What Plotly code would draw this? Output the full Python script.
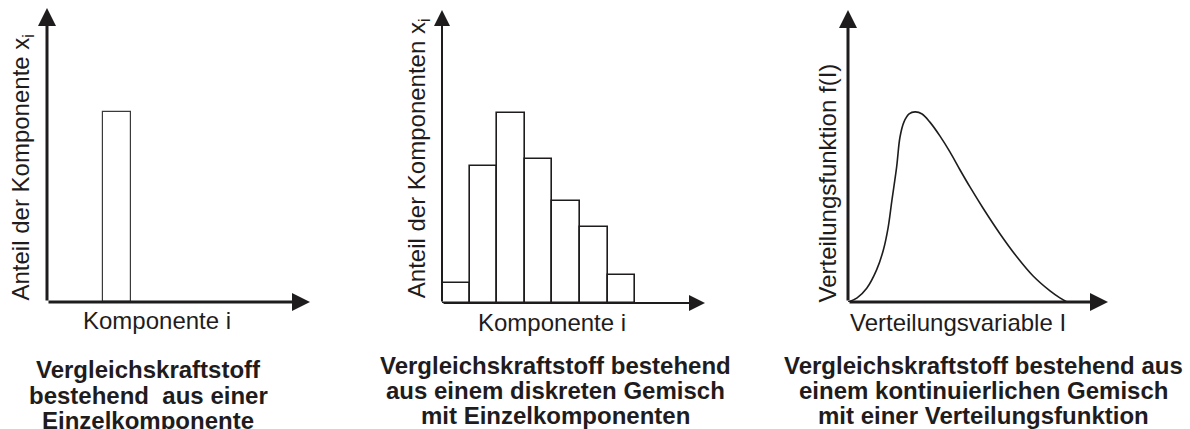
import plotly.graph_objects as go

W, H = 1190, 429

# ---- data ----
single_component_x = [2.5]
single_component_share = [64.5]

mix_components = [0.5, 1.5, 2.5, 3.5, 4.5, 5.5, 6.5]
mix_shares = [6.8, 46.8, 64.8, 49.1, 34.8, 25.9, 9.6]

dist_variable = [0, 0.35, 0.72, 1.10, 1.36, 1.54, 1.69, 1.87, 2.0, 2.15, 2.35, 2.58,
                 2.85, 3.15, 3.54, 3.92, 4.31, 4.69, 5.19, 5.85, 6.50, 7.12, 7.77, 8.15, 8.42]
dist_function = [0, 1.4, 4.7, 11.0, 17.8, 25.3, 34.9, 46.2, 56.5, 61.6, 64.4, 65.1,
                 64.4, 61.6, 56.8, 51.4, 45.2, 39.4, 32.2, 23.3, 15.4, 8.9, 3.8, 1.4, 0]

x_titles = ["Komponente i", "Komponente i", "Verteilungsvariable I"]
y_titles = ["Anteil der Komponente x<sub>i</sub>",
            "Anteil der Komponenten x<sub>i</sub>",
            "Verteilungsfunktion f(I)"]
captions = [
    ["Vergleichskraftstoff", "bestehend  aus einer", "Einzelkomponente"],
    ["Vergleichskraftstoff bestehend", "aus einem diskreten Gemisch", "mit Einzelkomponenten"],
    ["Vergleichskraftstoff bestehend aus", "einem kontinuierlichen Gemisch", "mit einer Verteilungsfunktion"],
]

# ---- layout helpers (pixel geometry) ----
def px_x(p):
    return p / W

def px_y(p):
    return 1 - p / H

INK = "#1f1c1d"
FONT = "Liberation Sans, Arial, sans-serif"

fig = go.Figure()

fig.add_trace(go.Bar(x=single_component_x, y=single_component_share, width=1,
                     marker=dict(color="white", line=dict(color="#3a3a3a", width=1.2)),
                     xaxis="x", yaxis="y", showlegend=False))
fig.add_trace(go.Bar(x=mix_components, y=mix_shares, width=1,
                     marker=dict(color="white", line=dict(color=INK, width=1.6)),
                     xaxis="x2", yaxis="y2", showlegend=False))
fig.add_trace(go.Scatter(x=dist_variable, y=dist_function, mode="lines",
                         line=dict(color=INK, width=1.6, shape="spline", smoothing=1.0),
                         xaxis="x3", yaxis="y3", showlegend=False))

panels = [
    dict(x0=47, x1=310, top=8, bottom=302, xmax=263 / 28, lw=3, asz=1.2),
    dict(x0=442, x1=705, top=10, bottom=303, xmax=263 / 27.6, lw=2, asz=1.6),
    dict(x0=848, x1=1108, top=10, bottom=302, xmax=10, lw=3, asz=1.2),
]

axis_common = dict(visible=False, showgrid=False, zeroline=False, fixedrange=True)
layout = dict(width=W, height=H, margin=dict(l=0, r=0, t=0, b=0),
              paper_bgcolor="white", plot_bgcolor="white", bargap=0,
              showlegend=False)
annotations = []
for i, p in enumerate(panels, start=1):
    sx = "" if i == 1 else str(i)
    layout["xaxis" + sx] = dict(axis_common, domain=[px_x(p["x0"]), px_x(p["x1"])],
                                range=[0, p["xmax"]], anchor="y" + sx)
    layout["yaxis" + sx] = dict(axis_common, domain=[px_y(p["bottom"]), px_y(p["top"])],
                                range=[0, 100], anchor="x" + sx)
    for (tx, ty) in [(p["xmax"], 0), (0, 100)]:
        annotations.append(dict(x=tx, y=ty, ax=0, ay=0, xref="x" + sx, yref="y" + sx,
                                axref="x" + sx, ayref="y" + sx, text="", showarrow=True,
                                arrowhead=2, arrowsize=p["asz"], arrowwidth=p["lw"],
                                arrowcolor=INK, standoff=0, startstandoff=0))

xt_pos = [(157, 320), (552, 322), (958, 322)]
yt_pos = [(21.5, 167), (418.7, 158.5), (827, 183.5)]
for i in range(3):
    annotations.append(dict(x=px_x(xt_pos[i][0]), y=px_y(xt_pos[i][1]), xref="paper", yref="paper",
                            text=x_titles[i], showarrow=False, xanchor="center", yanchor="middle",
                            font=dict(family=FONT, size=24, color=INK)))
    annotations.append(dict(x=px_x(yt_pos[i][0]), y=px_y(yt_pos[i][1]), xref="paper", yref="paper",
                            text=y_titles[i], showarrow=False, xanchor="center", yanchor="middle",
                            textangle=-90, font=dict(family=FONT, size=24, color=INK)))

cap_x = [148, 555, 984]
cap_y = [[369, 395, 420], [365, 390, 415], [365, 390, 415]]
for i in range(3):
    for j, line in enumerate(captions[i]):
        annotations.append(dict(x=px_x(cap_x[i]), y=px_y(cap_y[i][j]), xref="paper", yref="paper",
                                text="<b>" + line + "</b>", showarrow=False,
                                xanchor="center", yanchor="middle",
                                font=dict(family=FONT, size=24, color=INK)))

layout["annotations"] = annotations
fig.update_layout(**layout)
fig.write_html("out.html", config={"displayModeBar": False},
               post_script="document.body.style.margin='0';document.body.style.overflow='hidden';")
